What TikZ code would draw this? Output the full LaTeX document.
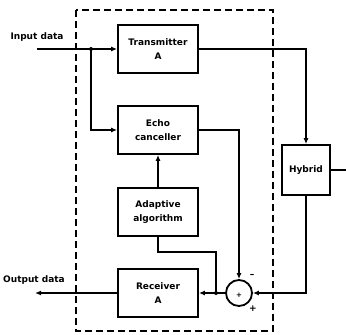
\documentclass[tikz,border=0pt]{standalone}
\usepackage{fontspec}
\setmainfont{DejaVu Sans}
\usetikzlibrary{arrows.meta,calc,positioning}

\begin{document}
\begin{tikzpicture}[
  x=1pt, y=-1pt,
  font=\fontsize{9}{14}\selectfont\bfseries,
  box/.style={draw, line width=1.8pt, align=center, minimum width=80pt, minimum height=48pt, inner sep=2pt},
  summer/.style={draw, line width=1.8pt, circle, minimum size=26pt, inner sep=0pt},
  line/.style={line width=1.8pt},
  arrow/.style={line, -{Latex[length=6pt,width=5pt]}},
  dot/.style={circle, fill, inner sep=0pt, minimum size=4pt}
]
\useasboundingbox (0,0) rectangle (346,335);
% boundary of the echo-cancelling modem
\draw[line width=1.4pt, dash pattern=on 7pt off 4pt] (76,10) rectangle (273,331);

\node[box] (tx) at (158,49) {Transmitter\\A};
\node[box] (ec) at (158,130) {Echo\\canceller};
\node[box] (alg) at (158,212) {Adaptive\\algorithm};
\node[box] (rx) at (158,293) {Receiver\\A};
\node[box, minimum width=48pt, minimum height=50pt] (hyb) at (306,170) {Hybrid};
\node[summer] (sum) at (239,293) {};
\node[font=\scriptsize\bfseries] at ($(sum.center)+(0,2)$) {+};

\coordinate (in) at (37,49);
\coordinate (out) at (35,293);
\coordinate (line) at (346,170);
\coordinate (split) at (91,49);
\coordinate (err) at (216,293);

\node[anchor=south] (inlab) at (37,45) {Input data};
\node[anchor=south] (outlab) at (34,288) {Output data};
\node (minus) at (252,276) {--};
\node (plus) at (253,309) {+};

\draw[line] (in) -- (split);
\draw[arrow] (split) -- (tx);
\draw[arrow] (split) |- (ec);
\node[dot] at (split) {};
\draw[arrow] (tx.east) -| (hyb.north);
\draw[line] (hyb) -- (line);
\draw[arrow] (ec.east) -| (sum.north);
\draw[arrow] (hyb.south) |- (sum.east);
\draw[arrow] (sum.west) -- (rx.east);
\draw[line] (err) -- ++(0,-41) -| (alg.south);
\node[dot] at (err) {};
\draw[arrow] (alg) -- (ec);
\draw[arrow] (rx) -- (out);
\end{tikzpicture}
\end{document}
